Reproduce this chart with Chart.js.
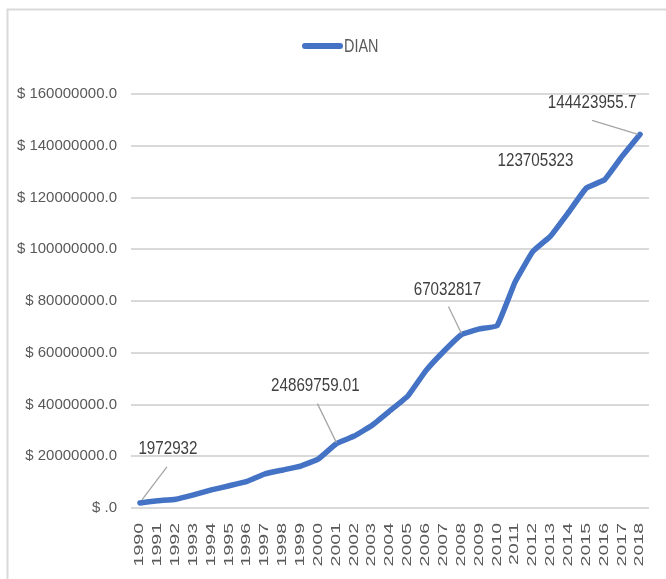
<!DOCTYPE html>
<html>
<head>
<meta charset="utf-8">
<script src="https://cdn.jsdelivr.net/npm/chart.js@4.4.1/dist/chart.umd.min.js"></script>
<style>
  html, body { margin: 0; padding: 0; background: #fff; }
  #wrap { width: 666px; height: 579px; position: relative; }
</style>
</head>
<body>
<div id="wrap"><canvas id="dian-chart"></canvas></div>
<script>
const years = ['1990', '1991', '1992', '1993', '1994', '1995', '1996', '1997', '1998', '1999',
    '2000', '2001', '2002', '2003', '2004', '2005', '2006', '2007', '2008', '2009',
    '2010', '2011', '2012', '2013', '2014', '2015', '2016', '2017', '2018'];

const dian = [1972932, 2800000, 3400000, 5100000, 7000000, 8600000, 10300000, 13200000, 14700000, 16200000,
    19000000, 24869759.01, 27800000, 32000000, 37600000, 43300000, 53000000, 60500000, 67032817, 69200000,
    70500000, 87300000, 99200000, 105200000, 114300000, 123705323, 126800000, 136000000, 144423955.7];

const yTicks = [0, 20000000, 40000000, 60000000, 80000000, 100000000, 120000000, 140000000, 160000000];

// which points carry a value label
const labelled = [0, 11, 18, 25, 28];

const sans = '"Liberation Sans", Arial, sans-serif';

// condensed text, the picture's font is a narrow one
const squeezeText = (ctx, text, x, y, sx) => {
    ctx.save();
    ctx.translate(x, y);
    ctx.scale(sx, 1);
    ctx.fillText(text, 0, 0);
    ctx.restore();
};

const chartDecor = {
    id: 'chartDecor',
    beforeDraw(chart) {
        const { ctx } = chart;
        ctx.save();
        ctx.strokeStyle = '#d9d9d9';
        ctx.lineWidth = 2;
        ctx.beginPath();
        ctx.moveTo(7.5, 579);
        ctx.lineTo(7.5, 9.5);
        ctx.lineTo(666, 9.5);
        ctx.stroke();
        ctx.restore();
    },
    afterDatasetsDraw(chart, args, opts) {
        const { ctx } = chart;
        const meta = chart.getDatasetMeta(0);
        const ds = chart.data.datasets[0];
        ctx.save();
        ctx.font = '18.5px ' + sans;
        ctx.textAlign = 'center';
        ctx.textBaseline = 'middle';
        labelled.forEach((idx, k) => {
            const pt = meta.data[idx];
            const place = opts.places[k];
            const tx = pt.x + place.dx;
            const ty = pt.y + place.dy;
            if (place.lead) {
                ctx.strokeStyle = '#a6a6a6';
                ctx.lineWidth = 1.3;
                ctx.beginPath();
                ctx.moveTo(tx + place.lead[0], ty + place.lead[1]);
                ctx.lineTo(pt.x + place.end[0], pt.y + place.end[1]);
                ctx.stroke();
            }
            ctx.fillStyle = '#404040';
            squeezeText(ctx, String(ds.data[idx]), tx, ty, 0.82);
        });
        ctx.restore();
    },
    afterDraw(chart) {
        const { ctx } = chart;
        const xs = chart.scales.x;
        const ds = chart.data.datasets[0];
        ctx.save();

        // rotated year labels
        ctx.fillStyle = '#595959';
        ctx.font = '19.5px ' + sans;
        ctx.textAlign = 'right';
        ctx.textBaseline = 'middle';
        chart.data.labels.forEach((lab, i) => {
            ctx.save();
            ctx.translate(xs.getPixelForValue(i), chart.chartArea.bottom + 15);
            ctx.rotate(-Math.PI / 2);
            ctx.scale(1, 0.62);
            ctx.fillText(lab, 0, 0);
            ctx.restore();
        });

        // legend
        const lx = 305, ly = 46;
        ctx.strokeStyle = ds.borderColor;
        ctx.lineWidth = 6;
        ctx.lineCap = 'round';
        ctx.beginPath();
        ctx.moveTo(lx, ly);
        ctx.lineTo(lx + 35, ly);
        ctx.stroke();
        ctx.fillStyle = '#595959';
        ctx.font = '18px ' + sans;
        ctx.textAlign = 'left';
        ctx.textBaseline = 'middle';
        squeezeText(ctx, ds.label, lx + 39, ly + 1, 0.8);
        ctx.restore();
    }
};

new Chart(document.getElementById('dian-chart'), {
    type: 'line',
    data: {
        labels: years,
        datasets: [{
            label: 'DIAN',
            data: dian,
            borderColor: '#4472c4',
            backgroundColor: '#4472c4',
            borderWidth: 5.5,
            borderCapStyle: 'round',
            borderJoinStyle: 'round',
            tension: 0.1,
            pointRadius: 0,
            fill: false
        }]
    },
    options: {
        responsive: true,
        maintainAspectRatio: false,
        animation: false,
        events: [],
        layout: { padding: { top: 94, right: 17, bottom: 0, left: 0 } },
        plugins: {
            legend: { display: false },
            tooltip: { enabled: false },
            chartDecor: {
                places: [
                    { dx: 28, dy: -54, lead: [-1, 18], end: [2, -3] },
                    { dx: -21, dy: -58, lead: [2, 18], end: [0, -1] },
                    { dx: -14, dy: -45, lead: [1, 17], end: [0, -1] },
                    { dx: -51, dy: -27 },
                    { dx: -48, dy: -31, lead: [0, 17], end: [-2, 0] }
                ]
            }
        },
        scales: {
            x: {
                offset: true,
                grid: { display: false },
                border: { display: false },
                ticks: { display: false },
                afterFit: s => { s.height = 71; }
            },
            y: {
                min: 0,
                max: 160000000,
                afterFit: s => { s.width = 131; },
                afterBuildTicks: s => { s.ticks = yTicks.map(v => ({ value: v })); },
                grid: { color: '#d9d9d9', lineWidth: 2, drawTicks: false },
                border: { display: false },
                ticks: {
                    padding: 14,
                    color: '#595959',
                    font: { family: sans, size: 15 },
                    callback: v => '$ ' + (v ? v : '') + '.0'
                }
            }
        }
    },
    plugins: [chartDecor]
});
</script>
</body>
</html>
